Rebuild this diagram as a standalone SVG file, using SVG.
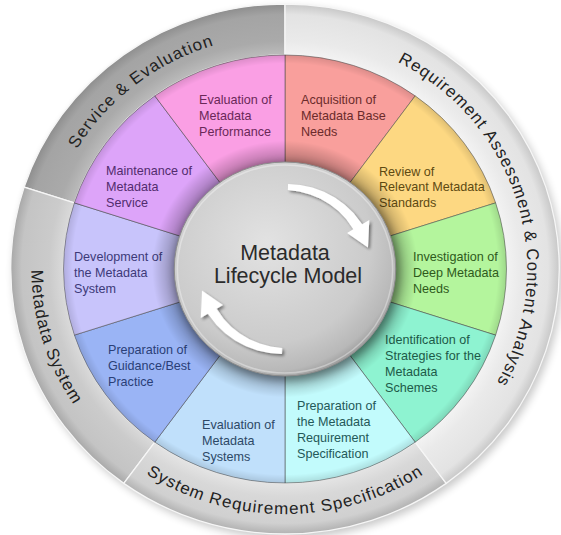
<svg xmlns="http://www.w3.org/2000/svg" width="561" height="535" viewBox="0 0 561 535">
<defs>
<style>
.lbl { font-family: "Liberation Sans", Arial, sans-serif; font-size: 12.6px; }
.ringtxt { font-family: "Liberation Sans", Arial, sans-serif; font-size: 16.5px; letter-spacing: 1px; fill: #222; }
.wedge { stroke: #4a4a4a; stroke-opacity: 0.55; stroke-width: 1; vector-effect: non-scaling-stroke; }
.seg { stroke: #f6f6f6; stroke-width: 1.3; vector-effect: non-scaling-stroke; }
.arrow { fill: #ffffff; }
</style>
<radialGradient id="gSE" gradientUnits="userSpaceOnUse" cx="0" cy="0" r="265">
<stop offset="0.8" stop-color="#bebebe"/><stop offset="0.86" stop-color="#aaaaaa"/><stop offset="0.96" stop-color="#a4a4a4"/><stop offset="1" stop-color="#8e8e8e"/>
</radialGradient>
<radialGradient id="gMS" gradientUnits="userSpaceOnUse" cx="0" cy="0" r="265">
<stop offset="0.8" stop-color="#dcdcdc"/><stop offset="0.86" stop-color="#cbcbcb"/><stop offset="0.96" stop-color="#c4c4c4"/><stop offset="1" stop-color="#a8a8a8"/>
</radialGradient>
<radialGradient id="gSRS" gradientUnits="userSpaceOnUse" cx="0" cy="0" r="265">
<stop offset="0.8" stop-color="#e6e6e6"/><stop offset="0.86" stop-color="#d8d8d8"/><stop offset="0.96" stop-color="#d0d0d0"/><stop offset="1" stop-color="#b2b2b2"/>
</radialGradient>
<radialGradient id="gRA" gradientUnits="userSpaceOnUse" cx="0" cy="0" r="265">
<stop offset="0.8" stop-color="#f4f4f4"/><stop offset="0.86" stop-color="#eaeaea"/><stop offset="0.96" stop-color="#e3e3e3"/><stop offset="1" stop-color="#c8c8c8"/>
</radialGradient>
<radialGradient id="wedgeShade" gradientUnits="userSpaceOnUse" cx="0" cy="0" r="214">
<stop offset="0.5" stop-color="#000" stop-opacity="0.28"/><stop offset="0.6" stop-color="#000" stop-opacity="0"/><stop offset="0.96" stop-color="#000" stop-opacity="0"/><stop offset="1" stop-color="#000" stop-opacity="0.12"/>
</radialGradient>
<radialGradient id="centerGrad" cx="0.42" cy="0.38" r="0.65">
<stop offset="0" stop-color="#e2e2e2"/><stop offset="0.72" stop-color="#cbcbcb"/><stop offset="0.92" stop-color="#b8b8b8"/><stop offset="1" stop-color="#9a9a9a"/>
</radialGradient>
<filter id="soft" x="-20%" y="-20%" width="140%" height="140%"><feGaussianBlur stdDeviation="4"/></filter>
<filter id="arrowShadow" x="-30%" y="-30%" width="160%" height="160%">
<feGaussianBlur in="SourceAlpha" stdDeviation="1.5"/>
<feOffset dx="1.5" dy="2"/>
<feComponentTransfer><feFuncA type="linear" slope="0.45"/></feComponentTransfer>
<feMerge><feMergeNode/><feMergeNode in="SourceGraphic"/></feMerge>
</filter>
<!-- per-word text paths (clockwise, baseline r=234) -->
<path id="pSE1" d="M-225.39,-62.92 A234,234 0 0 1 -96.67,-213.10"/>
<path id="pSE3" d="M-185.89,-142.13 A234,234 0 0 1 -10.62,-233.77"/>
<path id="pRA1" d="M62.92,-225.39 A234,234 0 0 1 213.10,-96.67"/>
<path id="pRA2" d="M156.87,-173.63 A234,234 0 0 1 233.84,8.57"/>
<path id="pRA3" d="M196.70,-126.76 A234,234 0 0 1 223.54,69.19"/>
<path id="pRA4" d="M216.96,-87.66 A234,234 0 0 1 206.60,109.86"/>
<path id="pRA5" d="M233.34,-17.55 A234,234 0 0 1 163.43,167.47"/>
<!-- counter-clockwise, baseline r=245 -->
<path id="pMS1" d="M-235.74,-66.71 A245,245 0 0 0 -202.64,137.71"/>
<path id="pMS2" d="M-244.90,6.84 A245,245 0 0 0 -152.17,192.01"/>
<path id="pSR1" d="M-190.66,153.86 A245,245 0 0 0 -4.70,244.95"/>
<path id="pSR2" d="M-123.60,211.53 A245,245 0 0 0 82.59,230.67"/>
<path id="pSR3" d="M-17.93,244.34 A245,245 0 0 0 175.64,170.81"/>
</defs>

<rect width="561" height="535" fill="#ffffff"/>

<g transform="translate(285,269) scale(1.035,1)">
<circle cx="3" cy="4" r="265" fill="#000" opacity="0.22" filter="url(#soft)"/>
</g>

<!-- outer ring segments -->
<g id="seg-service-evaluation" transform="translate(285,269) scale(1.035,1)">
<path class="seg" fill="url(#gSE)" d="M0,-265 A265,265 0 0 0 -252.03,-81.89 L-203.53,-66.13 A214,214 0 0 1 0,-214 Z"/>
<text class="ringtxt"><textPath href="#pSE1" startOffset="50%" text-anchor="middle">Service &amp;</textPath></text>
<text class="ringtxt"><textPath href="#pSE3" startOffset="50%" text-anchor="middle">Evaluation</textPath></text>
</g>
<g id="seg-metadata-system" transform="translate(285,269) scale(1.035,1)">
<path class="seg" fill="url(#gMS)" d="M-252.03,-81.89 A265,265 0 0 0 -155.77,214.39 L-125.79,173.13 A214,214 0 0 1 -203.53,-66.13 Z"/>
<text class="ringtxt"><textPath href="#pMS1" startOffset="50%" text-anchor="middle">Metadata</textPath></text>
<text class="ringtxt"><textPath href="#pMS2" startOffset="50%" text-anchor="middle">System</textPath></text>
</g>
<g id="seg-system-requirement" transform="translate(285,269) scale(1.035,1)">
<path class="seg" fill="url(#gSRS)" d="M-155.77,214.39 A265,265 0 0 0 155.77,214.39 L125.79,173.13 A214,214 0 0 1 -125.79,173.13 Z"/>
<text class="ringtxt"><textPath href="#pSR1" startOffset="50%" text-anchor="middle">System</textPath></text>
<text class="ringtxt"><textPath href="#pSR2" startOffset="50%" text-anchor="middle">Requirement</textPath></text>
<text class="ringtxt"><textPath href="#pSR3" startOffset="50%" text-anchor="middle">Specification</textPath></text>
</g>
<g id="seg-requirement-assessment" transform="translate(285,269) scale(1.035,1)">
<path class="seg" fill="url(#gRA)" d="M155.77,214.39 A265,265 0 0 0 0,-265 L0,-214 A214,214 0 0 1 125.79,173.13 Z"/>
<text class="ringtxt"><textPath href="#pRA1" startOffset="50%" text-anchor="middle">Requirement</textPath></text>
<text class="ringtxt"><textPath href="#pRA2" startOffset="50%" text-anchor="middle">Assessment</textPath></text>
<text class="ringtxt"><textPath href="#pRA3" startOffset="50%" text-anchor="middle">&amp;</textPath></text>
<text class="ringtxt"><textPath href="#pRA4" startOffset="50%" text-anchor="middle">Content</textPath></text>
<text class="ringtxt"><textPath href="#pRA5" startOffset="50%" text-anchor="middle">Analysis</textPath></text>
</g>

<!-- coloured wedges -->
<g id="w-acquisition">
<path class="wedge" fill="#f99f9c" transform="translate(285,269) scale(1.035,1)" d="M0,0 L0,-214 A214,214 0 0 1 125.79,-173.13 Z"/>
<text class="lbl" fill="#6b2b2b"><tspan x="301" y="104">Acquisition of</tspan><tspan x="301" y="120">Metadata Base</tspan><tspan x="301" y="136">Needs</tspan></text>
</g>
<g id="w-review">
<path class="wedge" fill="#fdd882" transform="translate(285,269) scale(1.035,1)" d="M0,0 L125.79,-173.13 A214,214 0 0 1 203.53,-66.13 Z"/>
<text class="lbl" fill="#5e4a12"><tspan x="379" y="176">Review of</tspan><tspan x="379" y="191">Relevant Metadata</tspan><tspan x="379" y="207">Standards</tspan></text>
</g>
<g id="w-investigation">
<path class="wedge" fill="#b4f59d" transform="translate(285,269) scale(1.035,1)" d="M0,0 L203.53,-66.13 A214,214 0 0 1 203.53,66.13 Z"/>
<text class="lbl" fill="#2f5a1c"><tspan x="413" y="261">Investigation of</tspan><tspan x="413" y="277">Deep Metadata</tspan><tspan x="413" y="293">Needs</tspan></text>
</g>
<g id="w-identification">
<path class="wedge" fill="#8ef3d1" transform="translate(285,269) scale(1.035,1)" d="M0,0 L203.53,66.13 A214,214 0 0 1 125.79,173.13 Z"/>
<text class="lbl" fill="#1d5a48"><tspan x="385" y="344">Identification of</tspan><tspan x="385" y="360">Strategies for the</tspan><tspan x="385" y="376">Metadata</tspan><tspan x="385" y="392">Schemes</tspan></text>
</g>
<g id="w-preparation-spec">
<path class="wedge" fill="#c2fbfc" transform="translate(285,269) scale(1.035,1)" d="M0,0 L125.79,173.13 A214,214 0 0 1 0,214 Z"/>
<text class="lbl" fill="#245858"><tspan x="297" y="410">Preparation of</tspan><tspan x="297" y="426">the Metadata</tspan><tspan x="297" y="442">Requirement</tspan><tspan x="297" y="458">Specification</tspan></text>
</g>
<g id="w-evaluation-systems">
<path class="wedge" fill="#c0e0fb" transform="translate(285,269) scale(1.035,1)" d="M0,0 L0,214 A214,214 0 0 1 -125.79,173.13 Z"/>
<text class="lbl" fill="#2d4866"><tspan x="202" y="429">Evaluation of</tspan><tspan x="202" y="445">Metadata</tspan><tspan x="202" y="461">Systems</tspan></text>
</g>
<g id="w-guidance">
<path class="wedge" fill="#9ab4f5" transform="translate(285,269) scale(1.035,1)" d="M0,0 L-125.79,173.13 A214,214 0 0 1 -203.53,66.13 Z"/>
<text class="lbl" fill="#2a3f77"><tspan x="108" y="354">Preparation of</tspan><tspan x="108" y="370">Guidance/Best</tspan><tspan x="108" y="386">Practice</tspan></text>
</g>
<g id="w-development">
<path class="wedge" fill="#c8c4fb" transform="translate(285,269) scale(1.035,1)" d="M0,0 L-203.53,66.13 A214,214 0 0 1 -203.53,-66.13 Z"/>
<text class="lbl" fill="#3d3a78"><tspan x="74" y="261">Development of</tspan><tspan x="74" y="277">the Metadata</tspan><tspan x="74" y="293">System</tspan></text>
</g>
<g id="w-maintenance">
<path class="wedge" fill="#dda4f9" transform="translate(285,269) scale(1.035,1)" d="M0,0 L-203.53,-66.13 A214,214 0 0 1 -125.79,-173.13 Z"/>
<text class="lbl" fill="#522c6e"><tspan x="106" y="175">Maintenance of</tspan><tspan x="106" y="191">Metadata</tspan><tspan x="106" y="207">Service</tspan></text>
</g>
<g id="w-evaluation-performance">
<path class="wedge" fill="#fa9fe4" transform="translate(285,269) scale(1.035,1)" d="M0,0 L-125.79,-173.13 A214,214 0 0 1 0,-214 Z"/>
<text class="lbl" fill="#6a2858"><tspan x="199" y="104">Evaluation of</tspan><tspan x="199" y="120">Metadata</tspan><tspan x="199" y="136">Performance</tspan></text>
</g>

<g transform="translate(285,269) scale(1.035,1)">
<circle r="214" fill="url(#wedgeShade)"/>
</g>

<!-- centre -->
<g id="center">
<g transform="translate(285,269) scale(1.035,1)">
<circle cx="2" cy="3" r="109" fill="#000" opacity="0.35" filter="url(#soft)"/>
<circle r="107" fill="url(#centerGrad)" stroke="#8c8c8c" stroke-width="1" vector-effect="non-scaling-stroke"/>
<circle r="104" fill="none" stroke="#ffffff" stroke-opacity="0.35" stroke-width="1.5" vector-effect="non-scaling-stroke"/>
</g>
<text font-family="'Liberation Sans', Arial, sans-serif" font-size="21.5px" fill="#2b2b2b" text-anchor="middle"><tspan x="285" y="260">Metadata</tspan><tspan x="288" y="283">Lifecycle Model</tspan></text>
</g>

<!-- cycle arrows -->
<g id="connectors" filter="url(#arrowShadow)">
<g transform="translate(285,269) scale(1.035,1)">
<path id="arrow-top" class="arrow" d="M2.97,-84.95 L14.80,-83.98 L26.44,-81.38 L37.63,-77.15 L48.16,-71.39 L57.81,-64.21 L66.40,-55.72 L74.58,-44.81 L81.43,-48.93 L80.17,-21.48 L60.00,-36.05 L66.00,-39.66 L59.23,-49.70 L51.92,-57.66 L43.55,-64.56 L34.27,-70.25 L24.24,-74.60 L13.67,-77.52 L2.76,-78.95 Z"/>
<path id="arrow-bottom" class="arrow" transform="rotate(180)" d="M2.97,-84.95 L14.80,-83.98 L26.44,-81.38 L37.63,-77.15 L48.16,-71.39 L57.81,-64.21 L66.40,-55.72 L74.58,-44.81 L81.43,-48.93 L80.17,-21.48 L60.00,-36.05 L66.00,-39.66 L59.23,-49.70 L51.92,-57.66 L43.55,-64.56 L34.27,-70.25 L24.24,-74.60 L13.67,-77.52 L2.76,-78.95 Z"/>
</g>
</g>
</svg>
